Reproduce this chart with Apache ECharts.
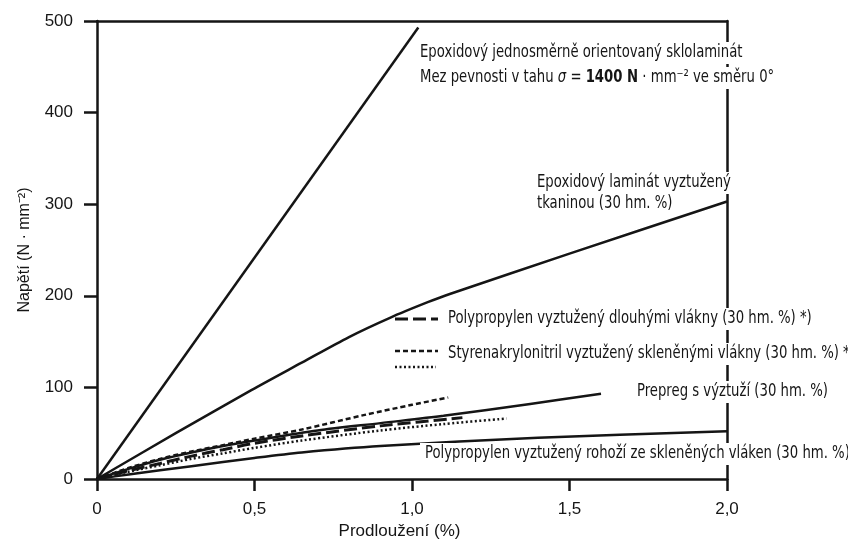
<!DOCTYPE html>
<html>
<head>
<meta charset="utf-8">
<script src="https://cdn.jsdelivr.net/npm/echarts@6/dist/echarts.min.js"></script>
<style>
  html, body { margin: 0; padding: 0; background: #fff; }
  #main { width: 848px; height: 545px; }
</style>
</head>
<body>
<div id="main"></div>
<script>
// [elongation %, stress N/mm2]
var uniGlass = [[0, 0], [1.02, 493]];
var wovenEpoxy = [[0, 0], [0.25, 50], [0.49, 97], [0.65, 127], [0.8, 155], [0.93, 176], [1.05, 193], [1.12, 202], [1.5, 246], [2.0, 303]];
var prepreg = [[0, 0], [0.1, 11], [0.2, 21], [0.3, 29], [0.4, 36], [0.5, 42], [0.7, 53], [0.9, 61], [1.1, 69], [1.375, 82], [1.6, 93]];
var ppLongFibre = [[0, 0], [0.1, 9], [0.2, 17], [0.3, 25], [0.4, 32], [0.5, 39], [0.65, 47], [0.9, 58], [1.16, 67]];
var sanGlass = [[0, 0], [0.1, 12], [0.2, 22], [0.3, 30], [0.4, 37], [0.5, 44], [0.65, 54], [0.85, 70], [1.0, 81], [1.115, 89]];
var dotted = [[0, 0], [0.1, 8], [0.2, 15], [0.3, 22], [0.4, 28], [0.5, 34], [0.65, 42], [0.9, 53], [1.1, 60], [1.3, 66]];
var ppMat = [[0, 0], [0.1, 5], [0.3, 14], [0.5, 23], [0.65, 29], [0.9, 36], [1.4, 45], [2.0, 52]];

var xTicks = ['0', '0,5', '1,0', '1,5', '2,0'];
var xName = 'Prodloužení (%)';
var yName = 'Napětí (N · mm⁻²)';

var labels = [
    { text: 'Epoxidový jednosměrně orientovaný sklolaminát', x: 420, y: 53 },
    { text: 'Mez pevnosti v tahu {i|σ} = {b|1400 N} · mm⁻² ve směru 0°', x: 420, y: 78 },
    { text: 'Epoxidový laminát vyztužený', x: 537, y: 183 },
    { text: 'tkaninou (30 hm. %)', x: 537, y: 204 },
    { text: 'Polypropylen vyztužený dlouhými vlákny (30 hm. %) *)', x: 448, y: 319 },
    { text: 'Styrenakrylonitril vyztužený skleněnými vlákny (30 hm. %) *)', x: 448, y: 354 },
    { text: 'Prepreg s výztuží (30 hm. %)', x: 637, y: 392 },
    { text: 'Polypropylen vyztužený rohoží ze skleněných vláken (30 hm. %)', x: 425, y: 454 }
];

var ink = '#151515';
var font = '"DejaVu Sans Condensed", "Liberation Sans", sans-serif';
var squeeze = 0.865;

var ctx = document.createElement('canvas').getContext('2d');
function textWidth(s) {
    ctx.font = '17px ' + font;
    var plain = s.replace(/\{i\|([^}]*)\}/g, '$1').replace(/\{b\|([^}]*)\}/g, '$1');
    return ctx.measureText(plain).width + 12;
}

function curve(data, dash, w) {
    return {
        type: 'line',
        data: data,
        showSymbol: false,
        smooth: 0.3,
        lineStyle: { color: ink, width: w || 2.5, type: dash || 'solid', cap: 'butt' },
        z: 3
    };
}

// labels sit on their own layer so their white boxes break the frame line
var elements = [];
labels.forEach(function (l) {
    var w = textWidth(l.text) * squeeze;
    elements.push({
        type: 'rect',
        zlevel: 1, z: 1,
        shape: { x: l.x - 5, y: l.y - 11, width: w + 4, height: 22 },
        style: { fill: '#fff' }
    });
    elements.push({
        type: 'text',
        zlevel: 1, z: 2,
        x: l.x,
        y: l.y,
        scaleX: squeeze,
        style: {
            text: l.text,
            font: '17px ' + font,
            fill: ink,
            verticalAlign: 'middle',
            rich: {
                i: { font: 'italic 17px ' + font, fill: ink },
                b: { font: 'bold 17px ' + font, fill: ink }
            }
        }
    });
});
// legend keys for the three broken-line curves
elements.push(
    { type: 'line', zlevel: 1, z: 2, shape: { x1: 395, y1: 319, x2: 438, y2: 319 }, style: { stroke: ink, lineWidth: 3, lineDash: [13, 5] } },
    { type: 'line', zlevel: 1, z: 2, shape: { x1: 395, y1: 351, x2: 438, y2: 351 }, style: { stroke: ink, lineWidth: 2.5, lineDash: [5, 3] } },
    { type: 'line', zlevel: 1, z: 2, shape: { x1: 395, y1: 367, x2: 436, y2: 367 }, style: { stroke: ink, lineWidth: 2.5, lineDash: [2, 2.5] } }
);

var frameAxis = {
    type: 'value',
    axisLine: { onZero: false, lineStyle: { color: ink, width: 2.5 } },
    axisTick: { show: false }, axisLabel: { show: false }, splitLine: { show: false }
};

var myChart = echarts.init(document.getElementById('main'));
var option = {
    backgroundColor: '#fff',
    animation: false,
    grid: { left: 97, right: 121, top: 21, bottom: 66 },
    xAxis: [{
        type: 'value',
        min: 0, max: 2, interval: 0.5,
        name: xName,
        nameLocation: 'middle',
        nameGap: 42,
        nameTextStyle: { fontFamily: 'Liberation Sans', fontSize: 17, color: ink, padding: [0, 25, 0, 0] },
        axisLine: { lineStyle: { color: ink, width: 2.5 } },
        axisTick: { length: 12, lineStyle: { color: ink, width: 2.5 } },
        axisLabel: {
            margin: 22, fontFamily: 'Liberation Sans', fontSize: 17, color: ink,
            formatter: function (v) { return xTicks[Math.round(v / 0.5)]; }
        },
        splitLine: { show: false }
    }, Object.assign({ position: 'top', min: 0, max: 2 }, frameAxis)],
    yAxis: [{
        type: 'value',
        min: 0, max: 500, interval: 100,
        name: yName,
        nameLocation: 'middle',
        nameGap: 64,
        nameTextStyle: { fontFamily: 'Liberation Sans', fontSize: 16, color: ink },
        axisLine: { lineStyle: { color: ink, width: 2.5 } },
        axisTick: { length: 13, lineStyle: { color: ink, width: 2.5 } },
        axisLabel: { margin: 24, fontFamily: 'Liberation Sans', fontSize: 17, color: ink },
        splitLine: { show: false }
    }, Object.assign({ position: 'right', min: 0, max: 500 }, frameAxis)],
    series: [
        curve(uniGlass),
        curve(wovenEpoxy),
        curve(prepreg),
        curve(ppLongFibre, [13, 5], 3),
        curve(sanGlass, [5, 3]),
        curve(dotted, [2, 2.5]),
        curve(ppMat)
    ],
    graphic: { elements: elements }
};
myChart.setOption(option);
</script>
</body>
</html>
